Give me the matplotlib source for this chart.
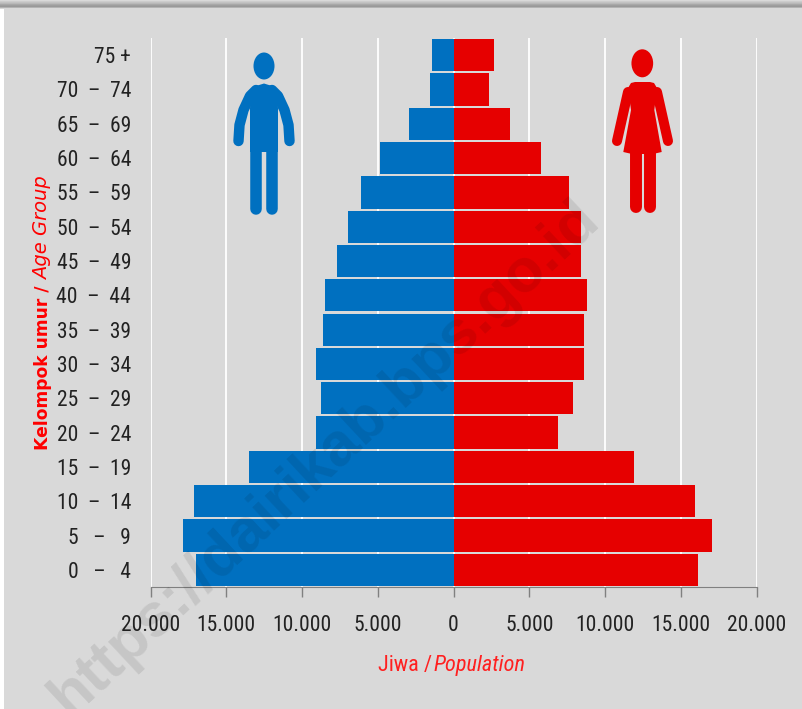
import numpy as np
import matplotlib.pyplot as plt
from matplotlib import font_manager as fm
from matplotlib.patches import Ellipse, Polygon, Rectangle

age_groups = ['0   –   4', '5   –   9', '10  –  14', '15  –  19', '20  –  24', '25  –  29', '30  –  34', '35  –  39',
              '40  –  44', '45  –  49', '50  –  54', '55  –  59', '60  –  64', '65  –  69', '70  –  74', '75 +']
male = [17000, 17850, 17130, 13500, 9080, 8750, 9080, 8610, 8480, 7690, 6960, 6100, 4850, 2940, 1550, 1390]
female = [16140, 17060, 15940, 11910, 6900, 7890, 8610, 8610, 8810, 8420, 8420, 7620, 5780, 3730, 2340, 2670]
x_ticks = [-20000, -15000, -10000, -5000, 0, 5000, 10000, 15000, 20000]
x_labels = ['20.000', '15.000', '10.000', '5.000', '0', '5.000', '10.000', '15.000', '20.000']

BLUE = '#0070c0'
RED = '#e60000'
W, H = 802, 709

names = {f.name for f in fm.fontManager.ttflist}
narrow = 'Lato'
for n in ['Liberation Sans Narrow', 'Roboto Condensed', 'Open Sans Condensed']:
    if n in names:
        narrow = n
        break

fig = plt.figure(figsize=(W / 100, H / 100), dpi=100, facecolor='#d9d9d9')

# background pieces: grey strip along the top, white strip on the left
bg = fig.add_axes([0, 0, 1, 1], zorder=0)
bg.axis('off')
bg.imshow(np.array([[0.85], [0.80], [0.76], [0.72], [0.66], [0.62], [0.60], [0.70], [0.85]]), cmap='gray',
          vmin=0, vmax=1, extent=[0, W, 9, 0], aspect='auto')
bg.add_patch(Rectangle((0, 9), 4, H, color='white', lw=0))
bg.set_xlim(0, W)
bg.set_ylim(H, 0)

# main chart
ax = fig.add_axes([150.5 / W, 1 - 587 / H, (756 - 150) / W, (587 - 38) / H], zorder=1)
ax.patch.set_visible(False)
y = np.arange(len(age_groups))
ax.barh(y, -np.array(male), height=0.94, color=BLUE, zorder=3)
ax.barh(y, female, height=0.94, color=RED, zorder=3)
ax.set_xlim(-20000, 20000)
ax.set_ylim(-0.5, 15.5)
ax.set_xticks(x_ticks)
ax.set_xticklabels(x_labels, fontsize=15.5, family=narrow, color='#222222')
ax.set_yticks(y)
ax.set_yticklabels(age_groups, fontsize=15.5, family=narrow, color='#222222')
ax.tick_params(axis='y', length=0, pad=14)
ax.tick_params(axis='x', length=7, color='#808080', width=1, pad=13)
ax.xaxis.grid(True, color='white', lw=1.3, zorder=1)
ax.set_axisbelow(True)
for s in ['top', 'left', 'right']:
    ax.spines[s].set_visible(False)
ax.spines['bottom'].set_color('#808080')
ax.spines['bottom'].set_zorder(5)

# overlay in pixel coordinates for icons, titles and watermark
ov = fig.add_axes([0, 0, 1, 1], zorder=2)
ov.set_xlim(0, W)
ov.set_ylim(H, 0)
ov.axis('off')


def limb(xs, ys, color, width):
    ov.plot(xs, ys, color=color, lw=width, solid_capstyle='round', solid_joinstyle='round')


# man icon
ov.add_patch(Ellipse((264, 66), 21, 27, color=BLUE, lw=0))
ov.add_patch(Polygon([(250, 152), (250, 108), (252, 92), (256, 86), (264, 83.5), (272, 86), (276, 92),
                      (278, 108), (278, 152)], color=BLUE, lw=0))
arm_x = np.array([238.5, 239.5, 243.5, 250, 256])
arm_y = [141, 125, 110, 96, 90]
limb(arm_x, arm_y, BLUE, 7.5)
limb(528 - arm_x, arm_y, BLUE, 7.5)
limb([256, 256], [145, 208.5], BLUE, 8.3)
limb([272, 272], [145, 208.5], BLUE, 8.3)

# woman icon
ov.add_patch(Ellipse((642.3, 63.3), 21.7, 28, color=RED, lw=0))
ov.add_patch(Polygon([(628, 88), (631, 83), (635, 82), (650, 82), (654, 83), (657, 88), (654.3, 110),
                      (661.7, 152), (653, 154), (632, 154), (623.3, 152), (631, 110)], color=RED, lw=0))
limb([617, 628], [141, 92], RED, 7.2)
limb([668, 657], [141, 92], RED, 7.2)
limb([635.5, 635.5], [150, 206.7], RED, 8.6)
limb([650, 650], [150, 206.7], RED, 8.6)

# axis titles
ov.text(48, 450, 'Kelompok umur /', color='#ff0000', fontsize=12.3, family='DejaVu Sans', rotation=90, ha='left',
        va='baseline', fontweight='bold', rotation_mode='anchor')
ov.text(48, 280, 'Age Group', color='#ff0000', fontsize=14, family='DejaVu Sans', rotation=90, ha='left',
        va='baseline', style='italic', rotation_mode='anchor')
ov.text(378, 666, 'Jiwa / ', color='#ff2020', fontsize=16, family=narrow, ha='left', va='center')
ov.text(433, 666, 'Population', color='#ff2020', fontsize=16, family=narrow, style='italic', ha='left', va='center')

# watermark
ov.text(325, 458, 'https://dairikab.bps.go.id', color='black', alpha=0.09, fontsize=44, fontweight='bold',
        family='Liberation Sans', rotation=43, ha='center', va='center', rotation_mode='anchor')

fig.savefig('out.png', dpi=100, facecolor=fig.get_facecolor())
